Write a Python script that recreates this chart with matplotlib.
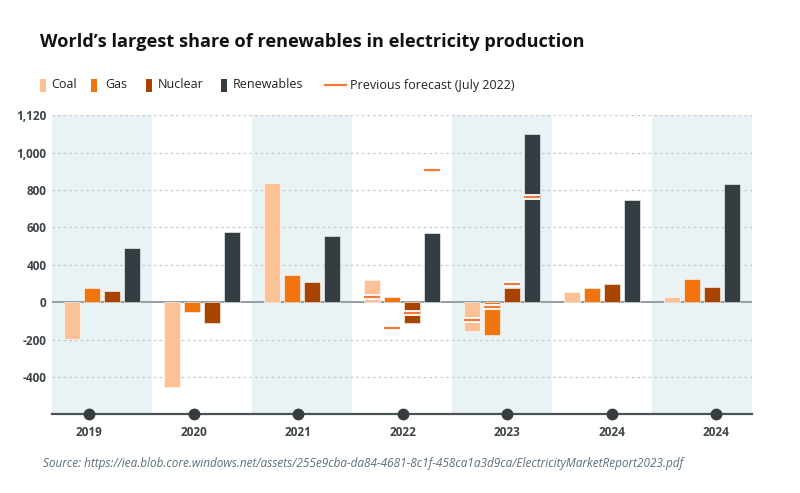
import matplotlib.pyplot as plt
import matplotlib.patches as patches
import matplotlib.patheffects as pe
import numpy as np

plt.rcParams['font.family'] = ['Open Sans', 'DejaVu Sans']

# --- data (y values in gridline units: one gridline step = 200) ---
years = ['2019', '2020', '2021', '2022', '2023', '2024', '2024']
coal = [-197, -450, 635, 119, -153, 57, 30]
gas = [75, -50, 147, 30, -174, 75, 123]
nuclear = [62, -112, 107, -112, 75, 98, 80]
renewables = [291, 376, 355, 373, 898, 549, 631]

nan = np.nan
coal_prev = [nan, nan, nan, 30, -94, nan, nan]
gas_prev = [nan, nan, nan, -135, -23, nan, nan]
nuclear_prev = [nan, nan, nan, -55, 96, nan, nan]
renew_prev = [nan, nan, nan, 707, 563, nan, nan]

grid_pos = [-400, -200, 0, 200, 400, 600, 800, 1000]
grid_lbl = ['-400', '-200', '0', '400', '600', '800', '1,000', '1,120']

names = ['Coal', 'Gas', 'Nuclear', 'Renewables']
colors = ['#fdc196', '#f0750f', '#a84300', '#343e42']
prev_color = '#f07a3a'
band_color = '#e9f2f5'

series = [coal, gas, nuclear, renewables]
prev = [coal_prev, gas_prev, nuclear_prev, renew_prev]

fig = plt.figure(figsize=(8, 4.93), dpi=100, facecolor='white')
ax = fig.add_axes([0.065, 0.1603, 0.875, 0.6064])
ax.set_xlim(0, 7)
ax.set_ylim(-595, 1000)

# alternating background bands
for i in range(len(years)):
    if i % 2 == 0:
        ax.axvspan(i, i + 1, color=band_color, zorder=0, lw=0)

# gridlines
for g in grid_pos:
    if g != 0:
        ax.axhline(g, color='#c4c9cc', lw=0.9, ls=(0, (2, 2.5)), zorder=1)
ax.axhline(0, color='#8d9598', lw=1.3, zorder=2)

offsets = [-0.3, -0.1, 0.1, 0.3]
width = 0.16
centers = np.arange(len(years)) + 0.5
for s, vals, c, off in zip(range(4), series, colors, offsets):
    ax.bar(centers + off, vals, width=width, color=c, edgecolor='white',
           linewidth=0.4, zorder=3)
    for x, v in zip(centers + off, prev[s]):
        if not np.isnan(v):
            ax.plot([x - width / 2, x + width / 2], [v, v], color=prev_color,
                    lw=1.6, solid_capstyle='butt', zorder=4,
                    path_effects=[pe.Stroke(linewidth=4.2, foreground='white'), pe.Normal()])

# axes styling
for sp in ['top', 'right', 'left']:
    ax.spines[sp].set_visible(False)
ax.spines['bottom'].set_color('#4a5256')
ax.spines['bottom'].set_linewidth(1.6)
ax.set_yticks(grid_pos)
ax.set_yticklabels(grid_lbl, fontsize=8.5, fontweight='bold', color='#3c4448')
ax.tick_params(axis='y', length=0, pad=4)

tick_x = 0.37 + np.arange(len(years)) * 1.045
ax.set_xticks(tick_x)
ax.set_xticklabels(years, fontsize=8.5, fontweight='bold', color='#3c4448')
ax.tick_params(axis='x', length=0, pad=9)
ax.plot(tick_x, [-595] * len(years), 'o', color='#353d41', ms=7.5,
        clip_on=False, zorder=6)

# title
fig.text(0.05, 0.914, 'World\u2019s largest share of renewables in electricity production',
         fontsize=13.1, fontweight='bold', color='#111111', ha='left', va='center')

# legend drawn by hand
ly = 1 - 85 / 493
for x0, name, c, tx in zip([40, 91, 146, 221], names, colors, [51, 105, 158, 233]):
    fig.add_artist(patches.Rectangle((x0 / 800, ly - 6.5 / 493), 5.5 / 800, 13 / 493,
                                     transform=fig.transFigure, color=c, lw=0))
    fig.text(tx / 800, ly, name, fontsize=9, color='#222222', ha='left', va='center')
fig.add_artist(plt.Line2D([325 / 800, 346 / 800], [ly, ly], transform=fig.transFigure,
                          color=prev_color, lw=1.6))
fig.text(350 / 800, ly, 'Previous forecast (July 2022)', fontsize=9, color='#222222',
         ha='left', va='center')

fig.text(43 / 800, 1 - 463 / 493,
         'Source: https://iea.blob.core.windows.net/assets/255e9cba-da84-4681-8c1f-458ca1a3d9ca/ElectricityMarketReport2023.pdf',
         fontsize=8.5, style='italic', color='#5b6f7b', ha='left', va='center')

fig.savefig('out.png', dpi=100, facecolor='white')
